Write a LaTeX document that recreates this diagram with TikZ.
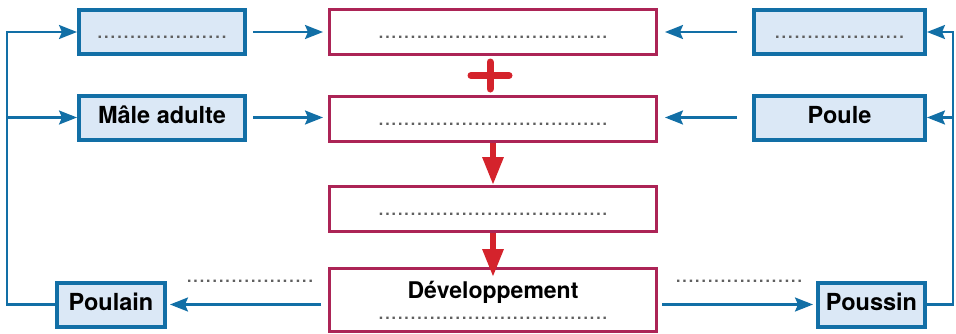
\documentclass[tikz,border=0pt]{standalone}
\usepackage{fontspec}
\setmainfont{TeX Gyre Heros}
\usetikzlibrary{arrows.meta, positioning, calc}

\definecolor{lineblue}{RGB}{18,111,166}
\definecolor{fillblue}{RGB}{219,232,246}
\definecolor{framered}{RGB}{172,36,86}
\definecolor{arrowred}{RGB}{212,35,44}
\definecolor{dotgray}{RGB}{95,95,95}

\newcommand{\shortdots}{....................}
\newcommand{\longdots}{....................................}

\begin{document}
\begin{tikzpicture}[
        x=1pt, y=-1pt,
        font=\fontsize{23}{21}\selectfont,
        bluebox/.style={rectangle, draw=lineblue, fill=fillblue, line width=4pt, minimum width=166pt, minimum height=44pt, inner sep=0pt, text height=12pt, text depth=0pt, font=\fontsize{23.5}{21}\selectfont\bfseries},
        frame/.style={rectangle, draw=framered, line width=3pt, minimum width=327pt, minimum height=45pt, inner sep=0pt, align=center},
        redbox/.style={frame, text height=12pt, text depth=0pt},
        dots/.style={text=dotgray, inner sep=0pt},
        arrow/.style={draw=lineblue, line width=2.3pt, -{Stealth[length=18pt, width=14pt, inset=3pt]}},
        bigarrow/.style={draw=arrowred, line width=6pt, -{Triangle[length=28pt, width=20pt]}}
    ]
        \useasboundingbox (0,0) rectangle (956,333);

        % Centre column
        \node[redbox] (c1) at (493,32) {\color{dotgray}\longdots};
        \node[redbox, below=39pt of c1] (c2) {\color{dotgray}\longdots};
        \node[redbox, below=42pt of c2] (c3) {\color{dotgray}\longdots};
        \node[frame, minimum height=63pt, below=34pt of c3] (c4) {\textbf{Développement}\\{\color{dotgray}\longdots}};

        % Left column
        \node[bluebox, left=81pt of c1] (l1) {\mdseries\color{dotgray}\shortdots};
        \node[bluebox, left=81pt of c2, yshift=1.5pt] (male) {Mâle adulte};
        \node[bluebox, minimum width=108pt, left=161pt of c4, yshift=-4.5pt] (poulain) {Poulain};

        % Right column
        \node[bluebox, minimum width=171pt, right=94pt of c1] (r1) {\mdseries\color{dotgray}\shortdots};
        \node[bluebox, minimum width=171pt, right=94pt of c2, yshift=1.5pt] (poule) {Poule};
        \node[bluebox, minimum width=107pt, right=158pt of c4, yshift=-4.5pt] (poussin) {Poussin};

        % Blanks over the bottom arrows
        \node[dots] (pdots) at (250,281) {\shortdots};
        \node[dots] (sdots) at (739,281) {\shortdots};

        % Cycle lines
        \coordinate (ltop) at (7,32);
        \coordinate (rtop) at (953,32);
        \draw[arrow] (poulain.west) -| (ltop) -- (l1);
        \draw[arrow] (ltop |- male) -- (male);
        \draw[arrow] (poussin.east) -| (rtop) -- (r1);
        \draw[arrow] (rtop |- poule) -- (poule);

        % Arrows to the centre
        \draw[arrow, shorten <=6pt, shorten >=5pt] (l1) -- (c1);
        \draw[arrow, shorten <=6pt, shorten >=5pt] (male) -- (male -| c2.west);
        \draw[arrow, shorten <=15pt, shorten >=7pt] (r1) -- (c1);
        \draw[arrow, shorten <=15pt, shorten >=7pt] (poule) -- (poule -| c2.east);

        % Arrows from the centre
        \draw[arrow, shorten <=7pt, shorten >=3pt] (c4.west |- poulain.east) -- (poulain.east);
        \draw[arrow, shorten <=4pt, shorten >=3pt] (c4.east |- poussin.west) -- (poussin.west);

        % Plus and red arrows
        \coordinate (plus) at ($(c1.south)!0.5!(c2.north)+(-3,0)$);
        \draw[arrowred, line width=7pt, line cap=round] ($(plus)+(-19,0)$) -- ($(plus)+(19,0)$);
        \draw[arrowred, line width=7pt, line cap=round] ($(plus)+(0,-13.5)$) -- ($(plus)+(0,13.5)$);
        \draw[bigarrow] (c2) -- (c3);
        \draw[bigarrow, shorten >=-10pt] (c3) -- (c4);
    \end{tikzpicture}
\end{document}
